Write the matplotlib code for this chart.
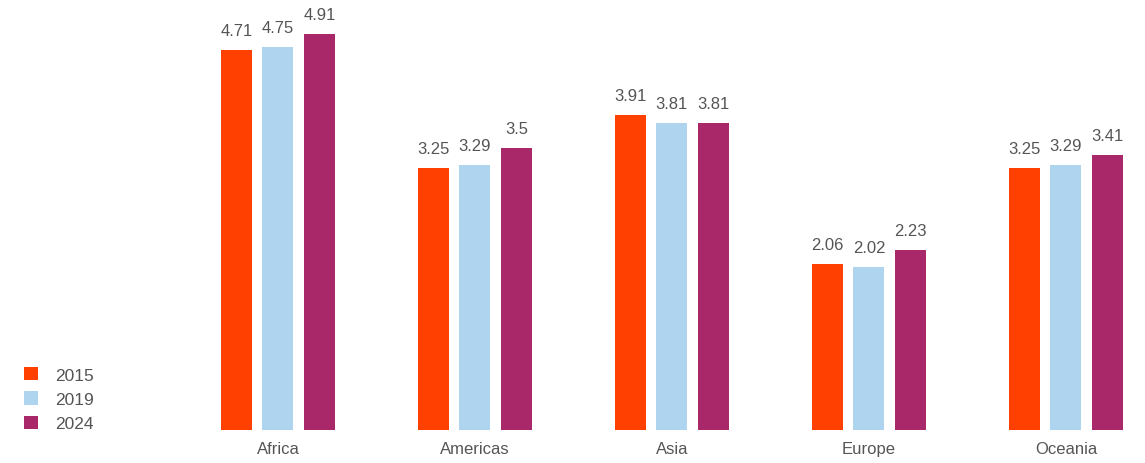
import numpy as np
import matplotlib.pyplot as plt

plt.rcParams['font.family'] = ['Liberation Sans', 'DejaVu Sans']

regions = ["Africa", "Americas", "Asia", "Europe", "Oceania"]
years = ["2015", "2019", "2024"]
v2015 = [4.71, 3.25, 3.91, 2.06, 3.25]
v2019 = [4.75, 3.29, 3.81, 2.02, 3.29]
v2024 = [4.91, 3.5, 3.81, 2.23, 3.41]

colors = ["#FF4000", "#AED4F0", "#A8286A"]
text_col = "#555555"

fig = plt.figure(figsize=(11.45, 4.64), dpi=100)
ax = fig.add_axes([180 / 1145, 33 / 464, 960 / 1145, 431 / 464])

x = np.arange(len(regions))
w = 0.157
step = 0.211
for i, (vals, yr) in enumerate(zip([v2015, v2019, v2024], years)):
    pos = x + (i - 1) * step
    bars = ax.bar(pos, vals, width=w, color=colors[i], label=yr)
    for b, v in zip(bars, vals):
        ax.text(b.get_x() + b.get_width() / 2, v + 0.15, f"{v:g}",
                ha="center", va="bottom", fontsize=12, color=text_col)

# group centres sit ~197 px apart, Africa centred near x=278
ax.set_xlim(-0.497, 960 / 197 - 0.497)
ax.set_ylim(0, 431 / 80.65)
ax.set_xticks(x)
ax.set_xticklabels(regions, fontsize=12, color=text_col)
ax.tick_params(axis="x", length=0, pad=8)
ax.set_yticks([])
for s in ax.spines.values():
    s.set_visible(False)

fig.legend(loc="lower left", bbox_to_anchor=(8 / 1145, 16 / 464), frameon=False,
           fontsize=12.5, labelcolor=text_col, handlelength=0.8, handleheight=0.8,
           handletextpad=1.0, labelspacing=0.5)

fig.savefig("out.png", dpi=100)
